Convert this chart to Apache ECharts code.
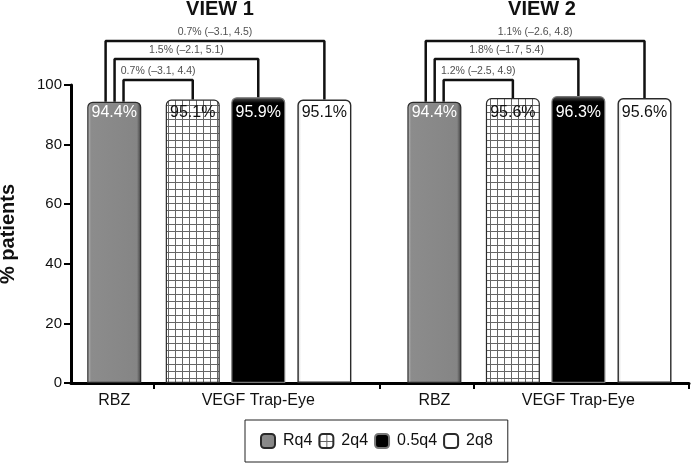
<!DOCTYPE html>
<html><head><meta charset="utf-8">
<script src="https://cdn.jsdelivr.net/npm/echarts@6/dist/echarts.min.js"></script>
<style>html,body{margin:0;padding:0;background:#fff}#c{width:692px;height:464px}</style>
</head><body><div id="c"></div>
<script>
// ---- data ----
const viewTitles = ['VIEW 1', 'VIEW 2'];
const groupLabels = ['RBZ', 'VEGF Trap-Eye'];
const seriesNames = ['Rq4', '2q4', '0.5q4', '2q8'];
const view1Values = [94.4, 95.1, 95.9, 95.1];
const view2Values = [94.4, 95.6, 96.3, 95.6];
const view1Comparisons = ['0.7% (\u20133.1, 4.4)', '1.5% (\u20132.1, 5.1)', '0.7% (\u20133.1, 4.5)'];
const view2Comparisons = ['1.2% (\u20132.5, 4.9)', '1.8% (\u20131.7, 5.4)', '1.1% (\u20132.6, 4.8)'];
const yTickValues = [0, 20, 40, 60, 80, 100];

// ---- layout (axis units on a 0..100 x scale) ----
const slotPos = [7.0, 19.7, 30.3, 41.0];
const viewOffset = [0, 51.8];
const bracketHeights = [101.7, 108.7, 114.8];
const legOffsets = [1.5, 0.05, -1.4];
const FONT = "'Liberation Sans', Arial, sans-serif";
const PX_PER_UNIT_Y = 2.98;

const views = [view1Values, view2Values];
const comps = [view1Comparisons, view2Comparisons];
const pos = (v, s) => viewOffset[v] + slotPos[s];

// x ticks between groups, labels under first bar of each group
const tickVals = [];
const labelVals = [];
const labelNames = [];
for (let v = 0; v < 2; v++) {
  tickVals.push((pos(v, 0) + pos(v, 1)) / 2);
  if (v === 0) tickVals.push((pos(0, 3) + pos(1, 0)) / 2);
  labelVals.push(pos(v, 0)); labelNames.push(groupLabels[0]);
  labelVals.push(pos(v, 2)); labelNames.push(groupLabels[1]);
}
tickVals.push(100);

// grid pattern
const pc = document.createElement('canvas'); pc.width = 7; pc.height = 7;
const pctx = pc.getContext('2d');
pctx.fillStyle = '#fff'; pctx.fillRect(0, 0, 7, 7);
pctx.fillStyle = '#666'; pctx.fillRect(0, 0, 7, 1); pctx.fillRect(0, 0, 1, 7);

const G = echarts.graphic.LinearGradient;
const barStyles = [
  { color: new G(0, 0, 1, 0, [{offset: 0, color: '#c4c4c4'}, {offset: 0.07, color: '#8c8c8c'}, {offset: 0.92, color: '#858585'}, {offset: 1, color: '#3a3a3a'}]), borderColor: '#2a2a2a', borderWidth: 1.2, borderRadius: [5, 5, 0, 0] },
  { color: { image: pc, repeat: 'repeat' }, borderColor: '#2a2a2a', borderWidth: 1.2, borderRadius: [5, 5, 0, 0] },
  { color: new G(0, 0, 0, 1, [{offset: 0, color: '#555'}, {offset: 0.02, color: '#000'}, {offset: 1, color: '#000'}]), borderColor: '#777', borderWidth: 1.2, borderRadius: [5, 5, 0, 0] },
  { color: new G(0, 0, 1, 0, [{offset: 0, color: '#d0d0d0'}, {offset: 0.07, color: '#fff'}, {offset: 1, color: '#fff'}]), borderColor: '#2a2a2a', borderWidth: 1.4, borderRadius: [5, 5, 0, 0] }
];
const labelColors = ['#fff', '#111', '#fff', '#111'];
const labelBase = Math.min(...view1Values, ...view2Values);

const series = [];
seriesNames.forEach((name, s) => {
  series.push({
    name, type: 'bar', barWidth: 54, barGap: '-100%', z: 2,
    data: [0, 1].map(v => ({
      value: [pos(v, s), views[v][s]],
      label: { distance: 3 + (views[v][s] - labelBase) * PX_PER_UNIT_Y }
    })),
    itemStyle: barStyles[s],
    label: { show: true, position: 'insideTop', fontSize: 16, fontFamily: FONT, color: labelColors[s],
      formatter: p => p.value[1].toFixed(1) + '%' },
    silent: true
  });
});
for (let v = 0; v < 2; v++) {
  for (let k = 0; k < 3; k++) {
    const lx = pos(v, 0) + legOffsets[k];
    const rx = pos(v, k + 1);
    const h = bracketHeights[k];
    series.push({
      type: 'line', clip: false, symbol: 'none', silent: true, z: 3,
      lineStyle: { color: '#111', width: 2.5 },
      data: [[lx, views[v][0]], [lx, h], [rx, h], [rx, views[v][k + 1]]]
    });
    series.push({
      type: 'scatter', clip: false, symbolSize: 0, silent: true, z: 4,
      data: [[(lx + rx) / 2, h, comps[v][k]]],
      label: { show: true, position: 'top', distance: 3, fontSize: 10.5, fontFamily: FONT, color: '#222',
        formatter: p => p.value[2] }
    });
  }
}

const chart = echarts.init(document.getElementById('c'), null, { renderer: 'canvas' });
chart.setOption({
  animation: false,
  backgroundColor: '#fff',
  title: [
    { text: viewTitles[0], left: 215, top: -6, textAlign: 'center', textStyle: { fontSize: 20, fontWeight: 'bold', fontFamily: FONT, color: '#111' } },
    { text: viewTitles[1], left: 537, top: -6, textAlign: 'center', textStyle: { fontSize: 20, fontWeight: 'bold', fontFamily: FONT, color: '#111' } }
  ],
  grid: { left: 71, right: 3, top: 85, bottom: 81, containLabel: false, outerBoundsMode: 'none' },
  legend: {
    data: seriesNames, left: 245, top: 420, orient: 'horizontal',
    borderColor: '#222', borderWidth: 1, padding: [13, 15, 13, 15], itemGap: 6,
    itemWidth: 14, itemHeight: 14, icon: 'roundRect',
    textStyle: { fontSize: 16, fontFamily: FONT, color: '#111', padding: [0, 0, 0, 3] }
  },
  xAxis: {
    type: 'value', min: 0, max: 100,
    splitLine: { show: false },
    axisLine: { show: true, lineStyle: { color: '#000', width: 3 } },
    axisTick: { show: true, customValues: tickVals, length: 6, lineStyle: { color: '#000', width: 2 } },
    axisLabel: { customValues: labelVals, margin: 10, fontSize: 16, fontFamily: FONT, color: '#111',
      formatter: val => { const i = labelVals.findIndex(x => Math.abs(x - val) < 1e-6); return i >= 0 ? labelNames[i] : ''; } }
  },
  yAxis: {
    type: 'value', min: 0, max: 100, interval: 20,
    name: '% patients', nameLocation: 'middle', nameGap: 53,
    nameTextStyle: { fontSize: 20, fontWeight: 'bold', fontFamily: FONT, color: '#111' },
    splitLine: { show: false },
    axisLine: { show: true, lineStyle: { color: '#000', width: 3 } },
    axisTick: { show: true, length: 7, lineStyle: { color: '#000', width: 2 } },
    axisLabel: { margin: 9, fontSize: 15, fontFamily: FONT, color: '#111',
      formatter: v => yTickValues.includes(v) ? String(v) : '' }
  },
  series
});
</script></body></html>
